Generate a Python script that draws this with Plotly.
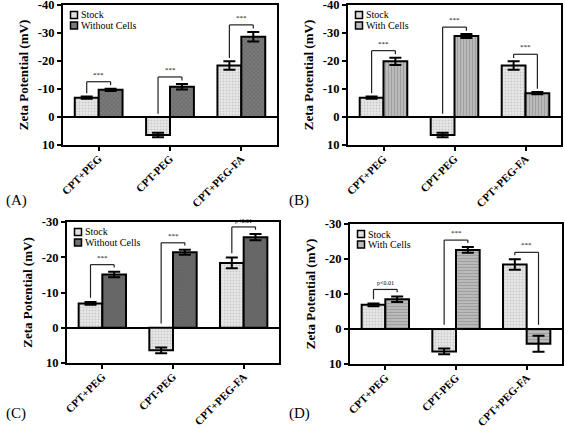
import plotly.graph_objects as go

categories = ["CPT+PEG", "CPT-PEG", "CPT+PEG-FA"]

stock_vals = [-6.9, 6.4, -18.4]
stock_err = [0.4, 0.8, 1.5]

a_without_vals = [-9.7, -10.8, -28.7]
a_without_err = [0.4, 1.0, 1.7]

b_with_vals = [-19.9, -28.9, -8.5]
b_with_err = [1.3, 0.7, 0.4]

c_without_vals = [-15.1, -21.4, -25.7]
c_without_err = [0.8, 0.7, 0.9]

d_with_vals = [-8.5, -22.6, 4.2]
d_with_err = [0.8, 0.8, 2.3]

a_sig = ["***", "***", "***"]
b_sig = ["***", "***", "***"]
c_sig = ["***", "***", "p<0.01"]
d_sig = ["p<0.01", "***", "***"]

ab_ticks = [-40, -30, -20, -10, 0, 10]
ab_ticktext = ["-40", "-30", "-20", "-10", "0", "10"]
cd_ticks = [-30, -20, -10, 0, 10]
cd_ticktext = ["-30", "-20", "-10", "0", "10"]

FONT = "Liberation Serif"
W, H = 565, 428

stock_style = dict(color="#e6e6e6", line=dict(color="black", width=2),
                   pattern=dict(shape=".", bgcolor="#e8e8e8", fgcolor="#a8a8a8", size=3, solidity=0.35))
without_a_style = dict(color="#707070", line=dict(color="black", width=2),
                       pattern=dict(shape="x", bgcolor="#7a7a7a", fgcolor="#4a4a4a", size=3, solidity=0.3))
with_b_style = dict(color="#a8a8a8", line=dict(color="black", width=2),
                    pattern=dict(shape="|", bgcolor="#bdbdbd", fgcolor="#808080", size=3, solidity=0.4))
without_c_style = dict(color="#606060", line=dict(color="black", width=2),
                       pattern=dict(shape="x", bgcolor="#6e6e6e", fgcolor="#3a3a3a", size=2, solidity=0.4))
with_d_style = dict(color="#a8a8a8", line=dict(color="black", width=2),
                    pattern=dict(shape="-", bgcolor="#bdbdbd", fgcolor="#808080", size=3, solidity=0.4))

# pixel boxes of each panel: left, right, top, bottom
panels = [
    ("(A)", "Without Cells", a_without_vals, a_without_err, without_a_style, a_sig, ab_ticks, ab_ticktext,
     (63, 277, 5, 145), 2.5, [10, -40], (4, 200)),
    ("(B)", "With Cells", b_with_vals, b_with_err, with_b_style, b_sig, ab_ticks, ab_ticktext,
     (348, 561, 5, 145), 2.5, [10, -40], (287, 200)),
    ("(C)", "Without Cells", c_without_vals, c_without_err, without_c_style, c_sig, cd_ticks, cd_ticktext,
     (67, 279, 222, 363), 2.0, [10, -30], (4, 413)),
    ("(D)", "With Cells", d_with_vals, d_with_err, with_d_style, d_sig, cd_ticks, cd_ticktext,
     (350, 562, 224, 364), 2.0, [10, -30], (287, 413)),
]

fig = go.Figure()
layout = dict(
    width=W, height=H, margin=dict(l=0, r=0, t=0, b=0, autoexpand=False),
    paper_bgcolor="white", plot_bgcolor="white",
    barmode="group", bargap=0.33, bargroupgap=0,
    font=dict(family=FONT, color="black"),
    showlegend=False,
)
shapes = []
annotations = []
xpos = list(range(len(categories)))
bargap = 0.33
off = (1 - bargap) / 4


def px(x):
    return x / W


def py(y):
    return 1 - y / H


for k, (lab, name2, vals2, err2, style2, sig, ticks, ticktext, box, gap, yr, labpos) in enumerate(panels, start=1):
    L, R, T, B = box
    xa = "x" if k == 1 else f"x{k}"
    ya = "y" if k == 1 else f"y{k}"
    err_style = dict(type="data", color="black", thickness=2, width=6)
    fig.add_trace(go.Bar(x=xpos, y=stock_vals, name="Stock", marker=stock_style,
                         error_y=dict(array=stock_err, **err_style),
                         xaxis=xa, yaxis=ya, offsetgroup="1"))
    fig.add_trace(go.Bar(x=xpos, y=vals2, name=name2, marker=style2,
                         error_y=dict(array=err2, **err_style),
                         xaxis=xa, yaxis=ya, offsetgroup="2"))
    xkey = "xaxis" if k == 1 else f"xaxis{k}"
    ykey = "yaxis" if k == 1 else f"yaxis{k}"
    layout[xkey] = dict(domain=[px(L), px(R)], anchor=ya, range=[-0.5, 2.5], tickvals=xpos, ticktext=categories,
                        tickangle=-45, ticks="outside", ticklen=4, tickwidth=2, tickcolor="black",
                        showline=True, linewidth=2, linecolor="black", mirror=True, showgrid=False,
                        zeroline=False, automargin=False, ticklabeloverflow="allow",
                        ticklabelstandoff=-3,
                        tickfont=dict(family=FONT, size=11, color="black", weight="bold"))
    layout[ykey] = dict(domain=[py(B), py(T)], anchor=xa, range=yr, tickvals=ticks, ticktext=ticktext,
                        ticks="outside", ticklen=4, tickwidth=2, tickcolor="black",
                        showline=True, linewidth=2, linecolor="black", mirror=True, showgrid=False,
                        zeroline=True, zerolinewidth=2, zerolinecolor="black", automargin=False,
                        ticklabeloverflow="allow",
                        tickfont=dict(family=FONT, size=12.5, color="black", weight="bold"),
                        title=dict(text="Zeta Potential (mV)", standoff=6,
                                   font=dict(family=FONT, size=13, color="black", weight="bold")))
    # manual legend (inside plot, top-left)
    for j, (nm, col) in enumerate([("Stock", "#e0e0e0"), (name2, style2["pattern"]["bgcolor"])]):
        cx = L + 11
        cy = T + 10 + j * 10.5
        shapes.append(dict(type="rect", xref="paper", yref="paper",
                           x0=px(cx - 3.5), x1=px(cx + 3.5), y0=py(cy + 3.5), y1=py(cy - 3.5),
                           line=dict(color="black", width=1.5), fillcolor=col))
        annotations.append(dict(text=nm, xref="paper", yref="paper", x=px(cx + 5), y=py(cy),
                                xanchor="left", yanchor="middle", showarrow=False,
                                font=dict(family=FONT, size=10, color="black")))
    # significance brackets
    for i in xpos:
        t1 = stock_vals[i] - stock_err[i]
        t2 = vals2[i] - err2[i]
        top = min(t1, t2) - gap
        l1 = min(t1, 0) - 1.2
        l2 = min(t2, 0) - 1.2
        x1 = i - off
        x2 = i + off
        lw = dict(color="#222", width=1.2)
        shapes.append(dict(type="line", xref=xa, yref=ya, x0=x1, x1=x1, y0=l1, y1=top, line=lw))
        shapes.append(dict(type="line", xref=xa, yref=ya, x0=x1, x1=x2, y0=top, y1=top, line=lw))
        shapes.append(dict(type="line", xref=xa, yref=ya, x0=x2, x1=x2, y0=top, y1=l2, line=lw))
        annotations.append(dict(text=sig[i], xref=xa, yref=ya, x=i, y=top, yanchor="bottom",
                                showarrow=False, yshift=1,
                                font=dict(family=FONT, size=7 if sig[i] == "***" else 6, color="black")))
    # panel label
    annotations.append(dict(text=lab, xref="paper", yref="paper",
                            x=px(labpos[0]), y=py(labpos[1]),
                            xanchor="left", yanchor="middle", showarrow=False,
                            font=dict(family=FONT, size=15, color="black")))

layout["shapes"] = shapes
layout["annotations"] = annotations
fig.update_layout(**layout)
fig.write_html("out.html", config={"displayModeBar": False},
               post_script="document.body.style.margin='0px';document.body.style.overflow='hidden';")
